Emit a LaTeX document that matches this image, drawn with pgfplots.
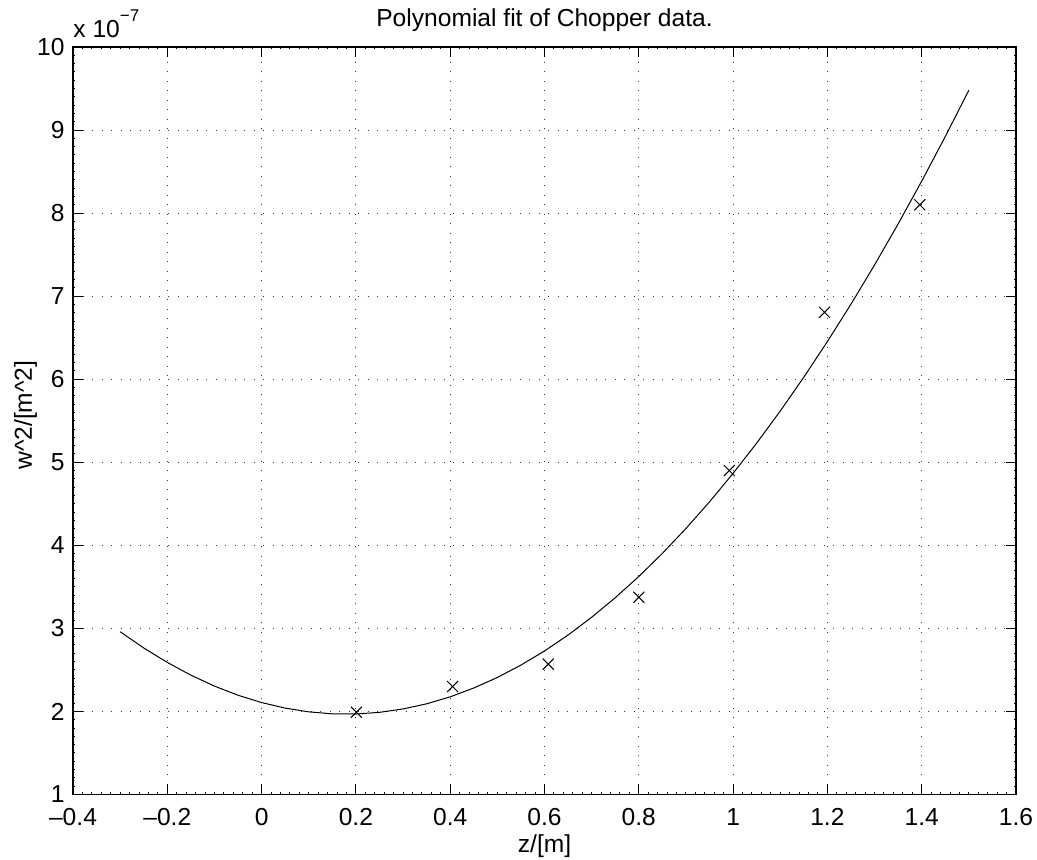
\documentclass[border=0pt]{standalone}
\usepackage{pgfplots}
\pgfplotsset{compat=1.18}
\usepackage{fontspec}
\setmainfont{Liberation Sans}
\begin{document}
\fontsize{12.3}{14}\selectfont
\begin{tikzpicture}
\useasboundingbox (-36.5pt,-32.75pt) rectangle (482pt,397.25pt);
\begin{axis}[
  at={(0,0)}, anchor=south west,
  scale only axis,
  width=471.5pt, height=373.75pt,
  xmin=-0.4, xmax=1.6, ymin=1, ymax=10,
  xtick={-0.4,-0.2,0,0.2,0.4,0.6,0.8,1,1.2,1.4,1.6},
  xticklabels={--0.4,--0.2,0,0.2,0.4,0.6,0.8,1,1.2,1.4,1.6},
  ytick={1,2,3,4,5,6,7,8,9,10},
  yticklabels={1,2,3,4,5,6,7,8,9,10},
  minor x tick num=9, minor y tick num=9,
  tick align=inside, tick pos=both,
  major tick length=5pt, minor tick length=1pt,
  every tick/.style={black, line width=0.5pt},
  axis line style={line width=0.6pt},
  grid=major,
  major grid style={black!80, line width=0.5pt, dash pattern=on 0.5pt off 4.25pt},
  xticklabel style={anchor=base, inner sep=0pt, yshift=-15.5pt},
  yticklabel style={anchor=east, inner sep=0pt, xshift=-4pt},
  clip=false,
]
\addplot[black, line width=0.5pt, no marks] coordinates {
(-0.30,2.960) (-0.25,2.764) (-0.20,2.590) (-0.15,2.437) (-0.10,2.305)
(-0.05,2.195) (0.00,2.107) (0.05,2.040) (0.10,1.995) (0.15,1.971)
(0.20,1.969) (0.25,1.989) (0.30,2.030) (0.35,2.092) (0.40,2.176)
(0.45,2.282) (0.50,2.409) (0.55,2.558) (0.60,2.728) (0.65,2.920)
(0.70,3.134) (0.75,3.369) (0.80,3.625) (0.85,3.903) (0.90,4.203)
(0.95,4.524) (1.00,4.867) (1.05,5.231) (1.10,5.617) (1.15,6.025)
(1.20,6.454) (1.25,6.904) (1.30,7.376) (1.35,7.870) (1.40,8.385)
(1.45,8.922) (1.50,9.480)
};
\addplot[only marks, mark=x, mark size=3.9pt, black, line width=0.5pt] coordinates {
(0.201,1.99) (0.405,2.30) (0.608,2.57) (0.800,3.375) (0.992,4.90) (1.194,6.805) (1.396,8.10)
};
\node[anchor=base] at (rel axis cs:0.5,1) [yshift=10.25pt] {Polynomial fit of Chopper data.};
\node[anchor=base] at (rel axis cs:0.5,0) [yshift=-29pt] {z/[m]};
\node[xshift=-20.5pt, yshift=2.8pt, rotate=90, anchor=base] at (rel axis cs:0,0.5) {w\string^2/[m\string^2]};
\node[anchor=base west, inner sep=0pt] at (rel axis cs:0,1) [yshift=4.85pt] {x 10\raisebox{7.8pt}{\fontsize{8.5}{9}\selectfont −7}};
\end{axis}
\end{tikzpicture}
\end{document}
